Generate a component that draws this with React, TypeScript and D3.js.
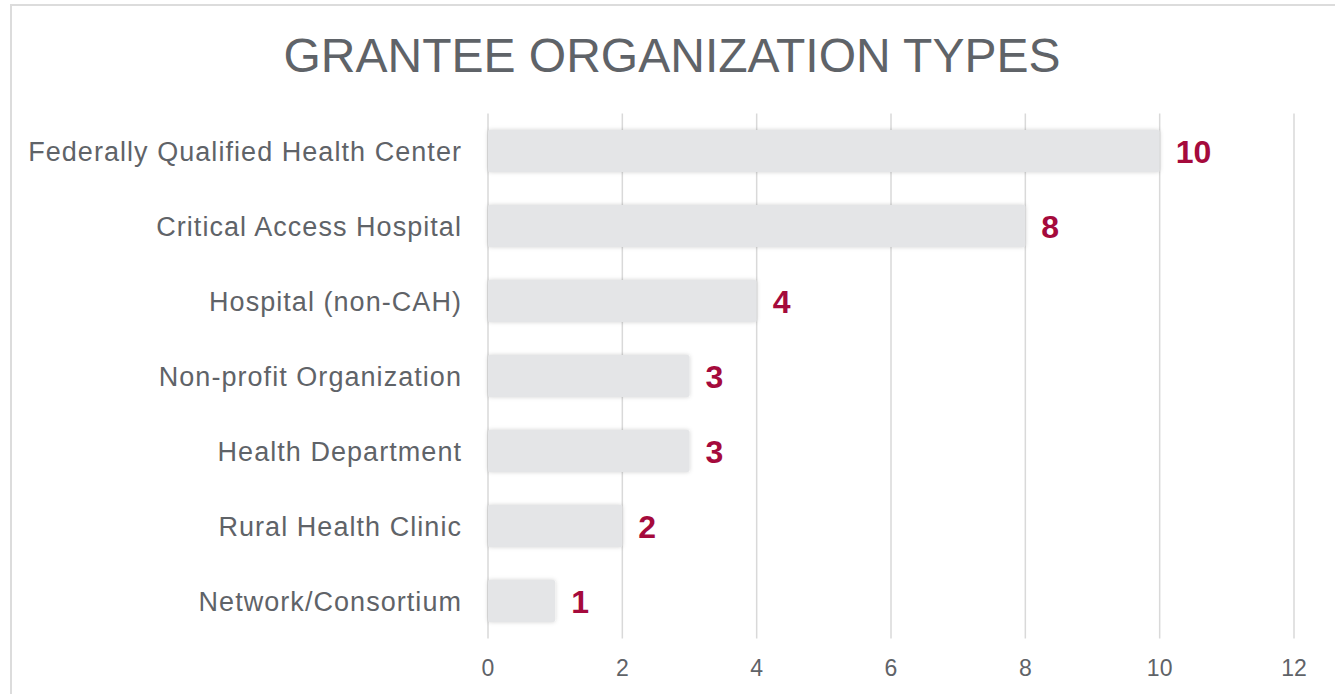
import React from "react";
import * as d3 from "d3";

const categories = [
  "Federally Qualified Health Center",
  "Critical Access Hospital",
  "Hospital (non-CAH)",
  "Non-profit Organization",
  "Health Department",
  "Rural Health Clinic",
  "Network/Consortium",
];
const values = [10, 8, 4, 3, 3, 2, 1];
const xTicks = [0, 2, 4, 6, 8, 10, 12];
const title = "GRANTEE ORGANIZATION TYPES";

const W = 1335;
const H = 694;
const plotLeft = 488;
const plotRight = 1294;
const plotTop = 113.5;
const plotBottom = 638.5;

export default function App() {
  const x = d3.scaleLinear().domain([0, 12]).range([plotLeft, plotRight]);
  const y = d3
    .scaleBand<string>()
    .domain(categories)
    .range([plotTop, plotBottom])
    .paddingInner(0.44)
    .paddingOuter(0.22);
  const font = "'Liberation Sans', Arial, sans-serif";
  const gray = "#5f6368";
  return (
    <svg
      width={W}
      height={H}
      style={{ position: "absolute", left: 0, top: 0, display: "block" }}
      fontFamily={font}
    >
      <defs>
        <filter id="sh" x="-20%" y="-40%" width="140%" height="180%">
          <feDropShadow dx="0" dy="0" stdDeviation="2.2" floodColor="#000" floodOpacity="0.18" />
        </filter>
      </defs>
      <rect x={0} y={0} width={W} height={H} fill="#fff" />
      <rect x={11} y={5} width={W + 20} height={H + 20} fill="none" stroke="#dcdcdc" strokeWidth={2} />
      <text x={672} y={72} textAnchor="middle" fontSize={48} fill={gray}>
        {title}
      </text>
      {xTicks.map((t) => (
        <line
          key={"g" + t}
          x1={x(t)}
          x2={x(t)}
          y1={plotTop}
          y2={plotBottom}
          stroke="#d9d9d9"
          strokeWidth={1.5}
        />
      ))}
      {categories.map((c, i) => {
        const by = y(c)!;
        const bh = y.bandwidth();
        return (
          <g key={c}>
            <rect
              x={x(0)}
              y={by}
              width={x(values[i]) - x(0)}
              height={bh}
              fill="#e4e5e7"
              rx={2}
              filter="url(#sh)"
            />
            <text
              x={462}
              y={by + bh / 2 + 9.5}
              textAnchor="end"
              fontSize={27}
              letterSpacing={1.05}
              fill={gray}
            >
              {c}
            </text>
            <text
              x={x(values[i]) + 16}
              y={by + bh / 2 + 12}
              fontSize={32}
              fontWeight="bold"
              fill="#a50a3c"
            >
              {values[i]}
            </text>
          </g>
        );
      })}
      {xTicks.map((t) => (
        <text key={"t" + t} x={x(t)} y={676} textAnchor="middle" fontSize={23} fill={gray}>
          {t}
        </text>
      ))}
    </svg>
  );
}
